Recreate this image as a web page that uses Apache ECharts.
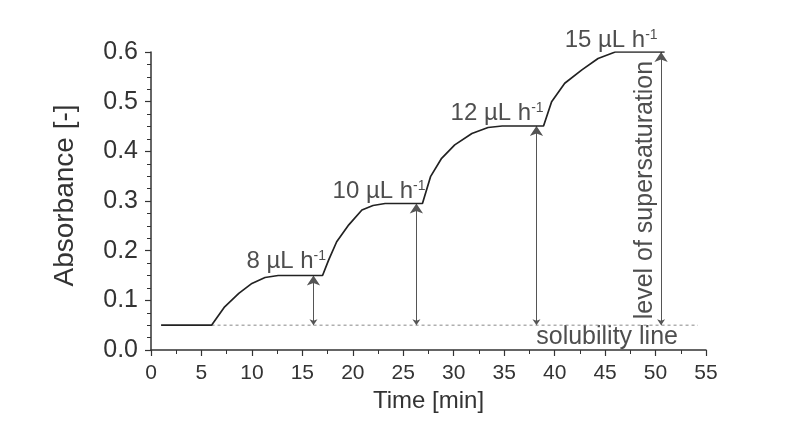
<!DOCTYPE html>
<html>
<head>
<meta charset="utf-8">
<script src="https://cdn.jsdelivr.net/npm/echarts@6/dist/echarts.min.js"></script>
<style>
html,body{margin:0;padding:0;background:#fff;}
#chart{width:801px;height:421px;}
</style>
</head>
<body>
<div id="chart"></div>
<script>
// Measured absorbance curve
var timeMin    = [1, 6, 7.3, 8.7, 10, 11.3, 12.6, 17, 17.6, 18.4, 19.6, 20.9, 22, 23.2, 26.9, 27.7, 28.8, 30.1, 31.8, 33.4, 34.8, 38.9, 39.7, 41, 42.7, 44.3, 46, 50.9];
var absorbance = [0.05, 0.05, 0.087, 0.114, 0.134, 0.146, 0.15, 0.15, 0.181, 0.218, 0.252, 0.282, 0.291, 0.295, 0.295, 0.349, 0.386, 0.413, 0.436, 0.448, 0.451, 0.451, 0.5, 0.537, 0.564, 0.587, 0.6, 0.6];

// Solubility line
var solubilityX = [6, 54.2];
var solubilityY = [0.05, 0.05];

// Supersaturation arrows (x position, plateau level)
var arrowX   = [16.1, 26.3, 38.2, 50.55];
var arrowTop = [0.15, 0.295, 0.451, 0.6];
var arrowBase = 0.05;

// Flow-rate labels
var rateNames = ['8', '10', '12', '15'];
var rateX = [13.4, 22.6, 34.3, 45.6];
var rateY = [0.178, 0.32, 0.476, 0.623];

// Other annotations
var noteTexts = ['level of supersaturation', 'solubility line'];
var noteX = [48.96, 45.2];
var noteY = [0.322, 0.025];
var noteRotate = [90, 0];

// Axis ticks
var xMin = 0, xMax = 55, xStep = 5;
var yMin = 0, yMax = 0.6, yStep = 0.1;

var FONT = "'Liberation Sans', Arial, sans-serif";
var chart = echarts.init(document.getElementById('chart'), null, {renderer: 'canvas'});

var curve = timeMin.map(function (t, i) { return [t, absorbance[i]]; });
var solub = solubilityX.map(function (t, i) { return [t, solubilityY[i]]; });
var arrows = arrowX.map(function (x, i) { return {coords: [[x, arrowBase], [x, arrowTop[i]]]}; });
var rateData = rateX.map(function (x, i) { return {value: [x, rateY[i]], name: rateNames[i]}; });
var noteData = noteX.map(function (x, i) {
  return {value: [x, noteY[i]], name: noteTexts[i], label: {rotate: noteRotate[i]}};
});

var axisCommon = {
  axisLine: {show: true, onZero: false, lineStyle: {color: '#333', width: 1.5}},
  axisTick: {show: true, inside: false, length: 6, lineStyle: {color: '#333', width: 1.2}},
  minorTick: {show: true, length: 4, lineStyle: {color: '#333', width: 1}},
  splitLine: {show: false},
  nameTextStyle: {fontFamily: FONT, color: '#333'}
};

chart.setOption({
  backgroundColor: '#fff',
  animation: false,
  grid: {left: 151, right: 95, top: 52, bottom: 71, containLabel: false, outerBoundsMode: 'none'},
  xAxis: echarts.util.merge({
    type: 'value', min: xMin, max: xMax, interval: xStep,
    minorTick: {splitNumber: 2},
    axisLabel: {fontFamily: FONT, fontSize: 21, color: '#333', margin: 13},
    name: 'Time [min]', nameLocation: 'middle', nameGap: 26,
    nameTextStyle: {fontSize: 24}
  }, axisCommon, false),
  yAxis: echarts.util.merge({
    type: 'value', min: yMin, max: yMax, interval: yStep,
    minorTick: {splitNumber: 4},
    axisLabel: {fontFamily: FONT, fontSize: 25, color: '#333', margin: 13,
      formatter: function (v) { return v.toFixed(1); }},
    name: 'Absorbance [-]', nameLocation: 'middle', nameGap: 72,
    nameTextStyle: {fontSize: 28, padding: [0, 0, 0, 11]}
  }, axisCommon, false),
  series: [
    {
      type: 'line', data: solub, symbol: 'none', silent: true,
      lineStyle: {color: '#888', width: 1, type: [3, 3]}
    },
    {
      type: 'lines', coordinateSystem: 'cartesian2d', data: arrows,
      symbol: ['arrow', 'arrow'], symbolSize: [6, 10], silent: true,
      lineStyle: {color: '#555', width: 1, opacity: 1}
    },
    {
      type: 'line', data: curve, symbol: 'none', silent: true,
      lineStyle: {color: '#222', width: 1.7}
    },
    {
      type: 'scatter', data: rateData, symbolSize: 0, silent: true, clip: false,
      label: {
        show: true, position: 'inside',
        formatter: function (p) { return '{a|' + p.name + ' µL h}{s|-1}'; },
        rich: {
          a: {fontFamily: FONT, fontSize: 24, color: '#222'},
          s: {fontFamily: FONT, fontSize: 14, color: '#222', verticalAlign: 'top'}
        }
      }
    },
    {
      type: 'scatter', data: noteData, symbolSize: 0, silent: true, clip: false,
      label: {
        show: true, position: 'inside',
        formatter: function (p) { return p.name; },
        fontFamily: FONT, fontSize: 25, color: '#222'
      }
    }
  ]
});
</script>
</body>
</html>
